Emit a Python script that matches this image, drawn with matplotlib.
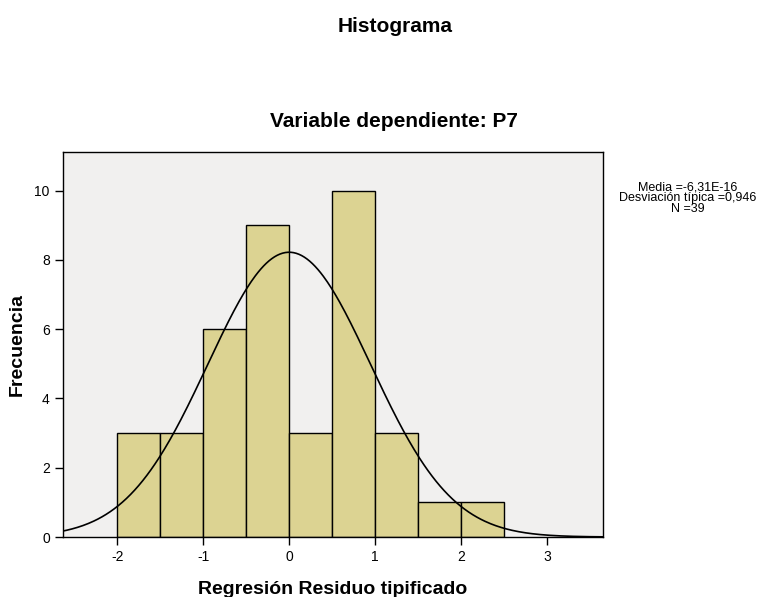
import matplotlib
matplotlib.use('Agg')
import matplotlib.pyplot as plt
import numpy as np

plt.rcParams['font.family'] = ['Liberation Sans', 'DejaVu Sans']
plt.rcParams['axes.unicode_minus'] = False

# datos del histograma
bin_edges = [-2.0, -1.5, -1.0, -0.5, 0.0, 0.5, 1.0, 1.5, 2.0, 2.5]
counts = [3, 3, 6, 9, 3, 10, 3, 1, 1]
media = -6.31e-16
desv = 0.946
n = 39

fig = plt.figure(figsize=(7.77, 5.97), dpi=100)
ax = fig.add_axes([0.0811, 0.1005, 0.695, 0.645])
ax.set_facecolor('#f1f0ef')

lefts = np.array(bin_edges[:-1])
widths = np.diff(bin_edges)
ax.bar(lefts, counts, width=widths, align='edge', color='#dcd392',
       edgecolor='black', linewidth=1.0)

# curva normal
x = np.linspace(-2.65, 3.65, 400)
bw = widths[0]
y = n * bw / (desv * np.sqrt(2 * np.pi)) * np.exp(-0.5 * ((x - media) / desv) ** 2)
ax.plot(x, y, color='black', linewidth=1.2)

ax.set_xlim(-2.63, 3.65)
ax.set_ylim(0, 11.12)
ax.set_xticks([-2, -1, 0, 1, 2, 3])
ax.set_yticks([0, 2, 4, 6, 8, 10])
ax.tick_params(direction='out', length=6, width=1, labelsize=10)
for s in ax.spines.values():
    s.set_linewidth(1.0)

ax.set_xlabel('Regresión Residuo tipificado', fontsize=14, fontweight='bold', labelpad=12)
ax.set_ylabel('Frecuencia', fontsize=14, fontweight='bold', labelpad=6)

# títulos centrados en la figura
fig.text(0.508, 0.955, 'Histograma', ha='center', va='center', fontsize=15, fontweight='bold')
fig.text(0.507, 0.796, 'Variable dependiente: P7', ha='center', va='center',
         fontsize=15, fontweight='bold')
fig.text(0.885, 0.668, 'Media =-6,31E-16\nDesviación típica =0,946\nN =39',
         ha='center', va='center', fontsize=9, linespacing=0.9)

fig.savefig('out.png', dpi=100)
